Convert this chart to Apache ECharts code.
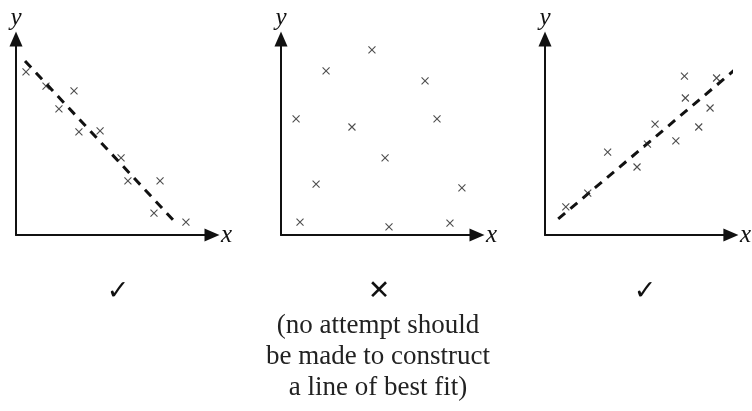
<!DOCTYPE html>
<html>
<head>
<meta charset="utf-8">
<script src="https://cdn.jsdelivr.net/npm/echarts@6/dist/echarts.min.js"></script>
<style>
  html, body { margin: 0; padding: 0; background: #fff; }
  #chart { width: 752px; height: 411px; }
</style>
</head>
<body>
<div id="chart"></div>
<script>
// panel 1: strong negative correlation
const negPoints = [
    [0.51, 8.32], [1.53, 7.60], [2.96, 7.35], [2.19, 6.43], [3.21, 5.26], [4.29, 5.31],
    [5.36, 3.93], [5.71, 2.76], [7.35, 2.76], [7.04, 1.12], [8.67, 0.66]
];
const negLine = [[0.46, 8.88], [8.21, 0.56]];

// panel 2: no correlation
const noPoints = [
    [4.64, 9.44], [2.30, 8.37], [7.35, 7.86], [0.77, 5.92], [3.62, 5.51], [7.96, 5.92],
    [5.31, 3.93], [1.79, 2.60], [9.23, 2.40], [0.97, 0.66], [5.51, 0.41], [8.62, 0.61]
];

// panel 3: positive correlation
const posPoints = [
    [7.50, 8.11], [9.23, 8.01], [7.55, 6.99], [8.88, 6.48], [5.92, 5.66], [8.27, 5.51],
    [7.04, 4.80], [5.51, 4.64], [3.37, 4.23], [4.95, 3.47], [2.30, 2.14], [1.12, 1.43]
];
const posLine = [[0.71, 0.82], [10.2, 8.42]];

const marks = ['\u2713', '\u2715', '\u2713'];
const noteLines = ['(no attempt should', 'be made to construct', 'a line of best fit)'];

const chart = echarts.init(document.getElementById('chart'));

const lefts = [16, 281, 545];
const crossPath = 'path://M0,0L10,10M10,0L0,10';

function xAxisFor(i) {
    return {
        gridIndex: i, type: 'value', min: 0, max: 10,
        name: 'x', nameLocation: 'end', nameGap: 9,
        nameTextStyle: { fontFamily: 'Liberation Serif', fontStyle: 'italic', fontSize: 25, color: '#111', verticalAlign: 'middle', padding: [0, 0, 2, 0] },
        axisLine: { lineStyle: { color: '#111', width: 2 }, symbol: ['none', 'triangle'], symbolSize: [13, 15] },
        axisTick: { show: false }, axisLabel: { show: false }, splitLine: { show: false }
    };
}
function yAxisFor(i) {
    return {
        gridIndex: i, type: 'value', min: 0, max: 10,
        name: 'y', nameLocation: 'end', nameGap: 8,
        nameTextStyle: { fontFamily: 'Liberation Serif', fontStyle: 'italic', fontSize: 25, color: '#111', align: 'center' },
        axisLine: { lineStyle: { color: '#111', width: 2 }, symbol: ['none', 'triangle'], symbolSize: [13, 15] },
        axisTick: { show: false }, axisLabel: { show: false }, splitLine: { show: false }
    };
}
function crosses(i, data) {
    return {
        type: 'scatter', xAxisIndex: i, yAxisIndex: i, data: data,
        symbol: crossPath, symbolSize: 7,
        itemStyle: { color: 'none', borderColor: '#222', borderWidth: 1.1 }
    };
}
function dashed(i, data) {
    return {
        type: 'line', xAxisIndex: i, yAxisIndex: i, data: data,
        symbol: 'none', clip: false, z: 1,
        lineStyle: { color: '#111', width: 3, type: [9, 7] }
    };
}

const graphics = [];
[118, 379, 645].forEach(function (cx, i) {
    graphics.push({
        type: 'text', x: cx, y: 292,
        style: { text: marks[i], fontFamily: 'DejaVu Sans', fontSize: 27, fontWeight: 'bold', fill: '#111', align: 'center', verticalAlign: 'middle' }
    });
});
noteLines.forEach(function (t, i) {
    graphics.push({
        type: 'text', x: 378, y: 326 + i * 31,
        style: { text: t, fontFamily: 'Liberation Serif', fontSize: 27, fill: '#222', align: 'center', verticalAlign: 'middle' }
    });
});

const option = {
    animation: false,
    backgroundColor: '#fff',
    grid: lefts.map(function (l) { return { left: l, top: 39, width: 196, height: 196 }; }),
    xAxis: [0, 1, 2].map(xAxisFor),
    yAxis: [0, 1, 2].map(yAxisFor),
    series: [
        dashed(0, negLine),
        crosses(0, negPoints),
        crosses(1, noPoints),
        dashed(2, posLine),
        crosses(2, posPoints)
    ],
    graphic: graphics
};
chart.setOption(option);
</script>
</body>
</html>
